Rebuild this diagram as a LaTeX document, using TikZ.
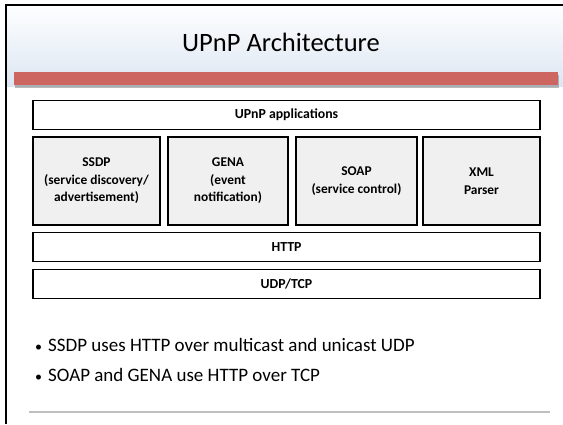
\documentclass[tikz,border=0pt]{standalone}
\usepackage{fontspec}
\setmainfont{Carlito}
\usetikzlibrary{shadows}

\definecolor{barred}{RGB}{205,102,96}
\definecolor{headblue}{RGB}{220,230,242}
\definecolor{protofill}{RGB}{240,240,240}
\definecolor{rulegray}{RGB}{191,191,191}

\tikzset{
  layer/.style={draw, line width=1.4pt, fill=white, inner sep=0pt,
    minimum height=29pt, font=\fontsize{13.8}{16}\selectfont\bfseries},
  proto/.style={draw, line width=1.4pt, fill=protofill, inner sep=0pt,
    minimum height=88pt, align=center,
    font=\fontsize{13.4}{17.5}\selectfont\bfseries},
  bullet/.style={anchor=west, inner sep=0pt, font=\fontsize{19}{22}\selectfont}
}

\begin{document}
\begin{tikzpicture}[x=1pt, y=-1pt]
\useasboundingbox (0,0) rectangle (563,424);
% header
\shade[top color=white, bottom color=headblue] (5,4) rectangle (563,86);
\draw[line width=2pt] (5.5,424) -- (5.5,4.5) -- (563,4.5);
\node (title) at (281,42) {\fontsize{26.5}{30}\selectfont UPnP Architecture};
\fill[barred, drop shadow={shadow xshift=1pt, shadow yshift=-2.5pt, opacity=0.55}]
  (14,72) rectangle (558,85);

% protocol stack
\node[layer, minimum width=507pt] (apps) at (286.5,115) {UPnP applications};
\node[proto, minimum width=127pt] (ssdp) at (96.5,181)
  {SSDP\\(service discovery/\\advertisement)};
\node[proto, minimum width=120pt] (gena) at (228,181) {GENA\\(event\\notification)};
\node[proto, minimum width=121pt] (soap) at (356.5,181) {SOAP\\(service control)};
\node[proto, minimum width=117pt] (xml)  at (481.5,181) {XML\\Parser};
\node[layer, minimum width=507pt] (http) at (286.5,247) {HTTP};
\node[layer, minimum width=507pt] (udp)  at (286.5,284) {UDP/TCP};

% notes
\node[bullet] (note1) at (35,345)
  {\makebox[13pt][l]{\fontsize{14}{14}\selectfont\textbullet}SSDP uses HTTP over multicast and unicast UDP};
\node[bullet] (note2) at (35,375)
  {\makebox[13pt][l]{\fontsize{14}{14}\selectfont\textbullet}SOAP and GENA use HTTP over TCP};
\draw[rulegray, line width=2pt] (29,412) -- (550,412);
\end{tikzpicture}
\end{document}
